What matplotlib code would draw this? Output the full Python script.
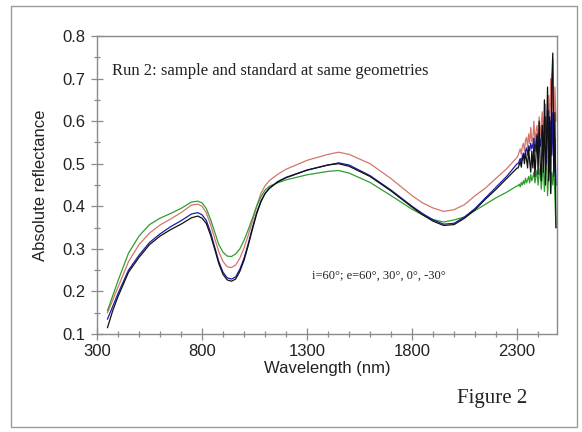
import matplotlib
matplotlib.use('Agg')
import matplotlib.pyplot as plt
from matplotlib.patches import Rectangle
from matplotlib.ticker import MultipleLocator

# Wavelength grid of the smooth part (nm)
wl_smooth = [350, 375, 400, 450, 500, 550, 600, 650, 700, 750,
             780, 800, 820, 840, 860, 880, 900, 920, 940, 960,
             980, 1000, 1020, 1040, 1060, 1080, 1100, 1120, 1160, 1200,
             1300, 1400, 1450, 1500, 1600, 1700, 1800, 1850, 1900, 1950,
             2000, 2050, 2100, 2150, 2200, 2250, 2300]

# Noisy tail of the spectra (nm), one reading every 5 nm
wl_tail = list(range(2305, 2486, 5))

red_smooth = [0.150, 0.180, 0.210, 0.270, 0.310, 0.337, 0.356, 0.370, 0.385, 0.403,
              0.405, 0.400, 0.385, 0.358, 0.325, 0.293, 0.270, 0.258, 0.256, 0.262,
              0.278, 0.302, 0.332, 0.365, 0.400, 0.430, 0.448, 0.460, 0.475, 0.487,
              0.508, 0.522, 0.527, 0.522, 0.500, 0.465, 0.425, 0.408, 0.396, 0.388,
              0.392, 0.404, 0.425, 0.443, 0.466, 0.488, 0.515]
red_tail = [0.520, 0.528, 0.535, 0.522, 0.540, 0.548, 0.530, 0.555, 0.562, 0.538,
            0.570, 0.548, 0.585, 0.552, 0.560, 0.600, 0.548, 0.575, 0.590, 0.555,
            0.610, 0.565, 0.592, 0.622, 0.560, 0.600, 0.640, 0.570, 0.612, 0.660,
            0.580, 0.700, 0.600, 0.745, 0.560, 0.680, 0.600]

green_smooth = [0.155, 0.190, 0.225, 0.290, 0.330, 0.357, 0.372, 0.383, 0.395, 0.410,
                0.412, 0.408, 0.395, 0.370, 0.340, 0.310, 0.292, 0.283, 0.282, 0.288,
                0.300, 0.320, 0.345, 0.372, 0.400, 0.422, 0.438, 0.447, 0.455, 0.462,
                0.474, 0.482, 0.484, 0.478, 0.456, 0.425, 0.393, 0.380, 0.369, 0.363,
                0.368, 0.375, 0.390, 0.405, 0.420, 0.433, 0.448]
green_tail = [0.448, 0.452, 0.446, 0.456, 0.450, 0.460, 0.452, 0.466, 0.455, 0.462,
              0.470, 0.455, 0.475, 0.460, 0.468, 0.480, 0.455, 0.470, 0.485, 0.450,
              0.475, 0.490, 0.440, 0.470, 0.500, 0.435, 0.480, 0.520, 0.425, 0.470,
              0.510, 0.430, 0.480, 0.450, 0.500, 0.420, 0.350]

blue_smooth = [0.135, 0.165, 0.195, 0.250, 0.285, 0.315, 0.335, 0.352, 0.366, 0.382,
               0.385, 0.380, 0.367, 0.340, 0.305, 0.270, 0.245, 0.232, 0.229, 0.234,
               0.252, 0.278, 0.312, 0.350, 0.385, 0.412, 0.430, 0.442, 0.458, 0.468,
               0.485, 0.497, 0.502, 0.497, 0.472, 0.438, 0.400, 0.383, 0.368, 0.358,
               0.360, 0.375, 0.395, 0.420, 0.445, 0.470, 0.500]
blue_tail = [0.500, 0.506, 0.512, 0.503, 0.518, 0.525, 0.512, 0.530, 0.537, 0.520,
             0.542, 0.530, 0.548, 0.535, 0.545, 0.560, 0.528, 0.552, 0.565, 0.535,
             0.575, 0.540, 0.560, 0.590, 0.520, 0.570, 0.610, 0.500, 0.580, 0.625,
             0.480, 0.600, 0.520, 0.620, 0.470, 0.560, 0.450]

black_smooth = [0.115, 0.155, 0.188, 0.245, 0.280, 0.310, 0.330, 0.345, 0.358, 0.373,
                0.377, 0.372, 0.360, 0.333, 0.300, 0.265, 0.240, 0.227, 0.224, 0.229,
                0.247, 0.273, 0.308, 0.346, 0.382, 0.410, 0.430, 0.442, 0.457, 0.467,
                0.485, 0.497, 0.500, 0.494, 0.470, 0.436, 0.398, 0.380, 0.365, 0.355,
                0.357, 0.372, 0.392, 0.417, 0.440, 0.465, 0.490]
black_tail = [0.490, 0.498, 0.505, 0.492, 0.512, 0.520, 0.500, 0.525, 0.510, 0.490,
              0.535, 0.505, 0.480, 0.530, 0.490, 0.545, 0.470, 0.520, 0.570, 0.475,
              0.600, 0.500, 0.460, 0.590, 0.480, 0.650, 0.450, 0.560, 0.680, 0.460,
              0.610, 0.430, 0.690, 0.760, 0.480, 0.620, 0.350]

series = [
    (red_smooth, red_tail, '#d4756c'),
    (green_smooth, green_tail, '#2e9e2e'),
    (blue_smooth, blue_tail, '#1c1ca6'),
    (black_smooth, black_tail, '#111111'),
]

x_ticks = [300, 800, 1300, 1800, 2300]
y_ticks = [0.1, 0.2, 0.3, 0.4, 0.5, 0.6, 0.7, 0.8]
y_tick_labels = ['0.1', '0.2', '0.3', '0.4', '0.5', '0.6', '0.7', '0.8']

sans = ['Liberation Sans', 'DejaVu Sans']
serif = ['Liberation Serif', 'DejaVu Serif']

fig = plt.figure(figsize=(5.82, 4.32), dpi=100)
fig.patch.set_facecolor('white')
# outer frame around the whole figure
fig.patches.append(Rectangle((11 / 582, 1 - 427 / 432), 566 / 582, 421 / 432,
                             transform=fig.transFigure, fill=False,
                             edgecolor='#9a9a9a', linewidth=1.0))

ax = fig.add_axes([97 / 582, 1 - 334 / 432, 460 / 582, 298 / 432])

for smooth, tail, color in series:
    ax.plot(wl_smooth + wl_tail, smooth + tail, color=color, linewidth=0.9)

ax.set_xlim(300, 2490)
ax.set_ylim(0.1, 0.8)
ax.set_xticks(x_ticks)
ax.set_xticklabels([str(t) for t in x_ticks])
ax.xaxis.set_minor_locator(MultipleLocator(100))
ax.set_yticks(y_ticks)
ax.set_yticklabels(y_tick_labels)
ax.yaxis.set_minor_locator(MultipleLocator(0.05))

for s in ax.spines.values():
    s.set_color('#8a8a8a')
    s.set_linewidth(1.0)

ax.tick_params(which='major', direction='inout', length=9, width=0.9, color='#8a8a8a',
               labelsize=12, pad=4)
ax.tick_params(axis='x', which='major', pad=3)
ax.tick_params(which='minor', direction='inout', length=5, width=0.9, color='#8a8a8a')
for lab in ax.get_xticklabels() + ax.get_yticklabels():
    lab.set_family(sans)
    lab.set_color('#222222')

ax.set_xlabel('Wavelength (nm)', family=sans, fontsize=12, labelpad=1, color='#222222')
ax.set_ylabel('Absolute reflectance', family=sans, fontsize=12, labelpad=10, color='#222222')

ax.text(0.033, 0.883, 'Run 2: sample and standard at same geometries', transform=ax.transAxes,
        family=serif, fontsize=12, va='center', ha='left', color='#222222')
ax.text(0.467, 0.197, 'i=60°; e=60°, 30°, 0°, -30°', transform=ax.transAxes,
        family=serif, fontsize=9, va='center', ha='left', color='#222222')
fig.text(457 / 582, 1 - 398 / 432, 'Figure 2', family=serif, fontsize=15,
         va='center', ha='left', color='#222222')

plt.savefig('out.png', dpi=100)
